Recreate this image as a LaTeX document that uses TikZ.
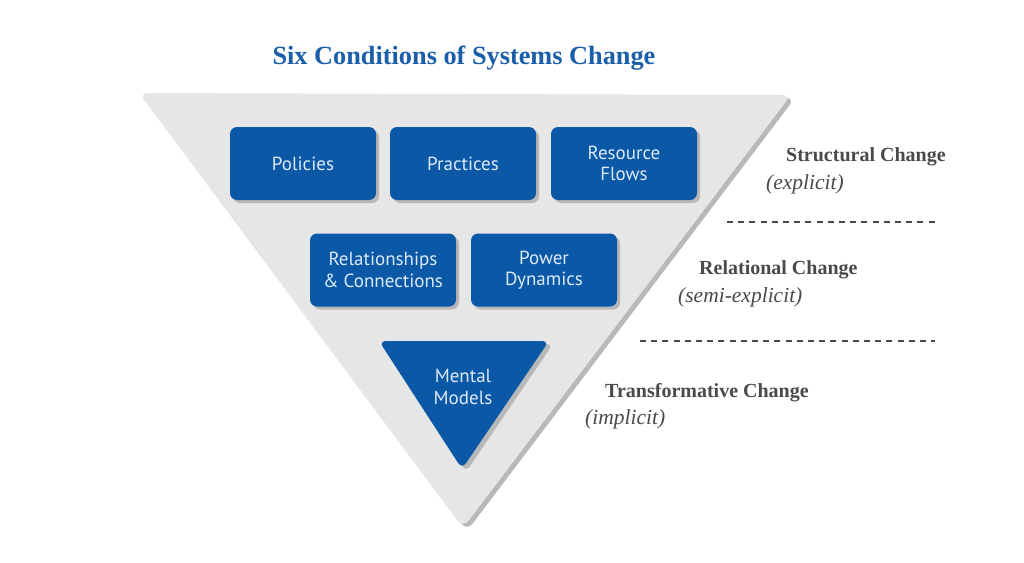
\documentclass[tikz,border=0pt]{standalone}
\usepackage{fontspec}
\setmainfont{Liberation Serif}
\newfontfamily\boxfont{PT Sans}
\usetikzlibrary{shadows}
\definecolor{tri}{HTML}{E6E6E6}
\definecolor{boxblue}{HTML}{0A58A6}
\definecolor{boxtext}{HTML}{DCEAF8}
\definecolor{titleblue}{HTML}{1B5FAA}
\definecolor{lbl}{HTML}{4A4A4A}
\tikzset{
  cond/.style={fill=boxblue, rounded corners=7pt, minimum width=146pt, minimum height=73pt,
    align=center, text=boxtext, font=\boxfont\fontsize{19}{21.5}\selectfont,
    drop shadow={shadow xshift=3pt, shadow yshift=-3pt, opacity=.45}},
  headlbl/.style={text=lbl, font=\bfseries\fontsize{20}{22}\selectfont, anchor=west, inner sep=0pt},
  sublbl/.style={text=lbl, font=\itshape\fontsize{21.5}{24}\selectfont, anchor=west, inner sep=0pt},
  sep/.style={lbl, line width=1.1pt, dash pattern=on 6pt off 5.2pt},
}
\begin{document}
\begin{tikzpicture}[x=1pt,y=-1pt]
\useasboundingbox (0,0) rectangle (1024,562);
\fill[white] (0,0) rectangle (1024,562);
% big triangle
\fill[tri, rounded corners=9pt, drop shadow={shadow xshift=4pt, shadow yshift=-3pt, opacity=.55}]
  (139,93) -- (791,95) -- (463,528) -- cycle;
% title
\node[text=titleblue, font=\bfseries\fontsize{26.3}{30}\selectfont] (title) at (464,58) {Six Conditions of Systems Change};
% boxes
\node[cond] (pol) at (303,163.5) {Policies};
\node[cond] (pra) at (463,163.5) {Practices};
\node[cond] (res) at (624,163.5) {Resource\\Flows};
\node[cond] (rel) at (383,270) {Relationships\\\& Connections};
\node[cond] (pow) at (544,270) {Power\\Dynamics};
% mental models triangle
\fill[boxblue, rounded corners=7pt, drop shadow={shadow xshift=4pt, shadow yshift=-3pt, opacity=.45}]
  (379,341) -- (549,341) -- (462,469) -- cycle;
\node[text=boxtext, align=center, font=\boxfont\fontsize{19}{21.5}\selectfont] (men) at (463,387) {Mental\\Models};
% right labels
\node[headlbl] (st) at (786,157) {Structural Change};
\node[sublbl] (stx) at (766,184) {(explicit)};
\node[headlbl] (re) at (699,270) {Relational Change};
\node[sublbl] (rex) at (678,297) {(semi-explicit)};
\node[headlbl] (tr) at (605,393) {Transformative Change};
\node[sublbl] (trx) at (585,419) {(implicit)};
% separators
\coordinate (d1a) at (727,222); \coordinate (d1b) at (938,222);
\coordinate (d2a) at (640,341); \coordinate (d2b) at (935,341);
\draw[sep] (d1a) -- (d1b);
\draw[sep] (d2a) -- (d2b);
\end{tikzpicture}
\end{document}
